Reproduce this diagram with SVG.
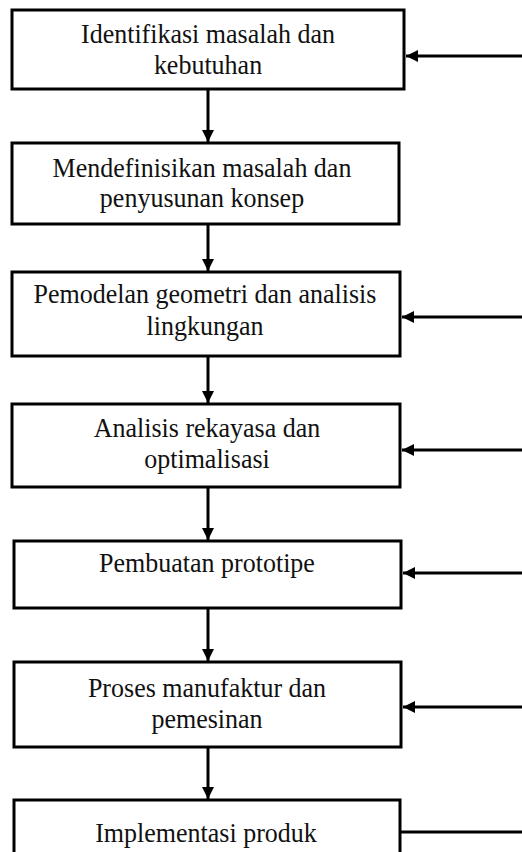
<svg xmlns="http://www.w3.org/2000/svg" width="522" height="852" viewBox="0 0 522 852">
<style>
.box{fill:#fff;stroke:#000;stroke-width:3}
.lbl{font-family:"Liberation Serif","Times New Roman",serif;font-size:26px;fill:#111;text-anchor:middle}
.conn{stroke:#000;stroke-width:3;fill:none}
</style>
<defs>
<marker id="ah" viewBox="0 0 12 12" refX="12" refY="6" markerWidth="12" markerHeight="12" markerUnits="userSpaceOnUse" orient="auto">
<path d="M0,0 L12,6 L0,12 Z" fill="#000"/>
</marker>
</defs>
<rect width="522" height="852" fill="#fff"/>
<g id="node1"><rect class="box" x="12" y="10" width="392" height="79"/>
<text class="lbl" transform="translate(208,43) scale(1,1.08)">Identifikasi masalah dan</text>
<text class="lbl" transform="translate(208,74) scale(1,1.08)">kebutuhan</text></g>
<g id="node2"><rect class="box" x="12" y="143" width="387" height="81"/>
<text class="lbl" transform="translate(202,177) scale(1,1.08)">Mendefinisikan masalah dan</text>
<text class="lbl" transform="translate(202,207) scale(1,1.08)">penyusunan konsep</text></g>
<g id="node3"><rect class="box" x="12" y="272" width="388" height="84"/>
<text class="lbl" transform="translate(205,303) scale(1,1.08)">Pemodelan geometri dan analisis</text>
<text class="lbl" transform="translate(205,335) scale(1,1.08)">lingkungan</text></g>
<g id="node4"><rect class="box" x="12" y="404" width="388" height="83"/>
<text class="lbl" transform="translate(207,437) scale(1,1.08)">Analisis rekayasa dan</text>
<text class="lbl" transform="translate(207,468) scale(1,1.08)">optimalisasi</text></g>
<g id="node5"><rect class="box" x="14" y="541" width="387" height="67"/>
<text class="lbl" transform="translate(207,572) scale(1,1.08)">Pembuatan prototipe</text></g>
<g id="node6"><rect class="box" x="14" y="662" width="387" height="85"/>
<text class="lbl" transform="translate(207,697) scale(1,1.08)">Proses manufaktur dan</text>
<text class="lbl" transform="translate(207,728) scale(1,1.08)">pemesinan</text></g>
<g id="node7"><rect class="box" x="14" y="800" width="386" height="70"/>
<text class="lbl" transform="translate(206,842) scale(1,1.08)">Implementasi produk</text></g>
<g id="connectors">
<line class="conn" x1="208" y1="90" x2="208" y2="142" marker-end="url(#ah)"/>
<line class="conn" x1="208" y1="225" x2="208" y2="271" marker-end="url(#ah)"/>
<line class="conn" x1="208" y1="357" x2="208" y2="403" marker-end="url(#ah)"/>
<line class="conn" x1="208" y1="488" x2="208" y2="540" marker-end="url(#ah)"/>
<line class="conn" x1="208" y1="609" x2="208" y2="661" marker-end="url(#ah)"/>
<line class="conn" x1="208" y1="748" x2="208" y2="799" marker-end="url(#ah)"/>
<line class="conn" x1="522" y1="56" x2="406" y2="56" marker-end="url(#ah)"/>
<line class="conn" x1="522" y1="317" x2="402" y2="317" marker-end="url(#ah)"/>
<line class="conn" x1="522" y1="450" x2="402" y2="450" marker-end="url(#ah)"/>
<line class="conn" x1="522" y1="573" x2="403" y2="573" marker-end="url(#ah)"/>
<line class="conn" x1="522" y1="707" x2="403" y2="707" marker-end="url(#ah)"/>
<line class="conn" x1="401" y1="832" x2="522" y2="832"/>
</g>
</svg>
